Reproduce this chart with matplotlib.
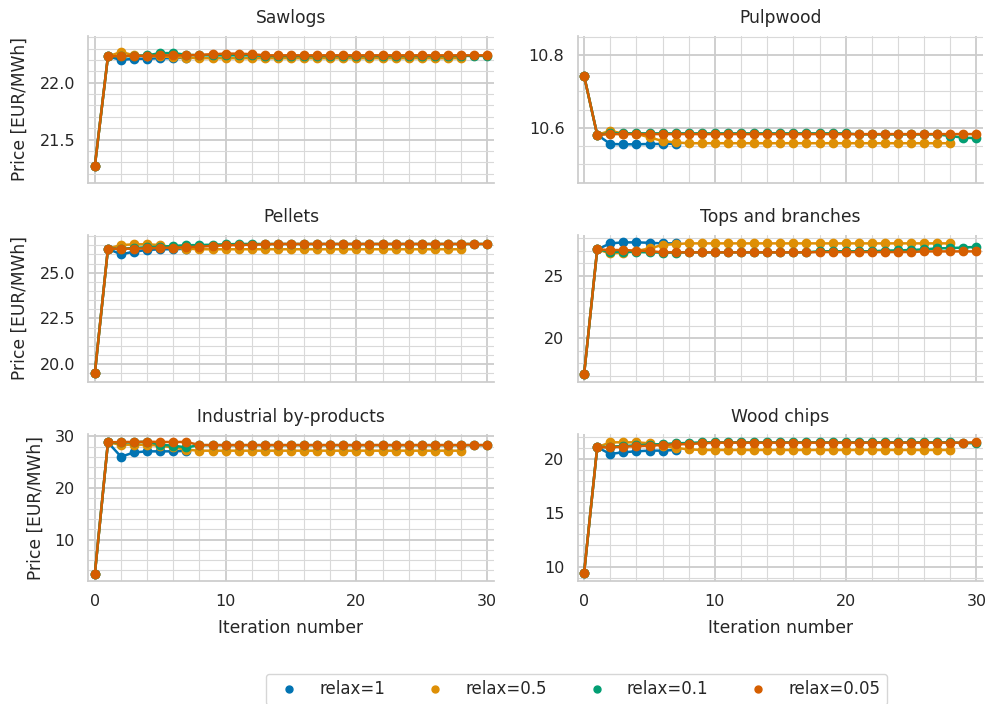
import matplotlib
matplotlib.use("Agg")
import matplotlib.pyplot as plt
import seaborn as sns
from matplotlib.lines import Line2D
from matplotlib.ticker import AutoMinorLocator, MultipleLocator

sns.set_theme(style="whitegrid", palette="colorblind")
plt.rcParams["font.family"] = ["DejaVu Sans"]

# ---- Data (price per iteration, EUR/MWh) ----
RELAX_LABELS = ["relax=1", "relax=0.5", "relax=0.1", "relax=0.05"]
PRODUCTS = ["Sawlogs", "Pulpwood", "Pellets", "Tops and branches",
            "Industrial by-products", "Wood chips"]

sawlogs_r1 = [21.27, 22.23, 22.20, 22.21, 22.21, 22.215, 22.215, 22.22]
sawlogs_r05 = [21.27, 22.23, 22.27, 22.24, 22.235, 22.23, 22.225, 22.22,
               22.215, 22.215, 22.215, 22.215, 22.215, 22.215, 22.215,
               22.215, 22.215, 22.215, 22.215, 22.215, 22.215, 22.215,
               22.215, 22.215, 22.215, 22.215, 22.215, 22.215, 22.215]
sawlogs_r01 = [21.27, 22.23, 22.23, 22.235, 22.24, 22.26, 22.26, 22.245,
               22.24, 22.24, 22.24, 22.24, 22.24, 22.235, 22.235, 22.235,
               22.235, 22.235, 22.235, 22.235, 22.235, 22.235, 22.235,
               22.235, 22.235, 22.235, 22.235, 22.235, 22.235, 22.235, 22.235]
sawlogs_r005 = [21.27, 22.23, 22.235, 22.235, 22.235, 22.24, 22.24, 22.24,
                22.245, 22.25, 22.255, 22.255, 22.25, 22.24, 22.24, 22.24,
                22.24, 22.24, 22.24, 22.24, 22.24, 22.24, 22.24, 22.24,
                22.24, 22.24, 22.24, 22.24, 22.24, 22.24, 22.24]

pulpwood_r1 = [10.742, 10.581, 10.556, 10.555, 10.555, 10.556, 10.556, 10.557]
pulpwood_r05 = [10.742, 10.581, 10.592, 10.584, 10.584, 10.574, 10.564, 10.560,
                10.558, 10.558, 10.558, 10.558, 10.558, 10.558, 10.558,
                10.558, 10.558, 10.558, 10.558, 10.558, 10.558, 10.558,
                10.558, 10.558, 10.558, 10.558, 10.558, 10.558, 10.558]
pulpwood_r01 = [10.742, 10.581, 10.585, 10.585, 10.585, 10.585, 10.585,
                10.585, 10.585, 10.585, 10.585, 10.585, 10.585, 10.585,
                10.585, 10.585, 10.585, 10.585, 10.585, 10.585, 10.585,
                10.582, 10.582, 10.582, 10.582, 10.582, 10.582, 10.582,
                10.578, 10.573, 10.572]
pulpwood_r005 = [10.742, 10.581, 10.583, 10.583, 10.583, 10.583, 10.583,
                 10.583, 10.583, 10.583, 10.583, 10.583, 10.583, 10.583,
                 10.583, 10.583, 10.583, 10.583, 10.583, 10.583, 10.583,
                 10.583, 10.583, 10.583, 10.583, 10.583, 10.583, 10.583,
                 10.583, 10.583, 10.583]

pellets_r1 = [19.49, 26.31, 26.00, 26.15, 26.24, 26.28, 26.28, 26.31]
pellets_r05 = [19.49, 26.31, 26.51, 26.55, 26.55, 26.51, 26.37, 26.31,
               26.28, 26.28, 26.28, 26.28, 26.28, 26.28, 26.28, 26.28,
               26.28, 26.28, 26.28, 26.28, 26.28, 26.28, 26.28, 26.28,
               26.28, 26.28, 26.28, 26.28, 26.28]
pellets_r01 = [19.49, 26.31, 26.31, 26.35, 26.39, 26.42, 26.46, 26.50,
               26.51, 26.53, 26.55, 26.57, 26.57, 26.57, 26.57, 26.57,
               26.57, 26.57, 26.57, 26.57, 26.57, 26.57, 26.57, 26.57,
               26.57, 26.57, 26.57, 26.57, 26.57, 26.57, 26.57]
pellets_r005 = [19.49, 26.31, 26.31, 26.31, 26.33, 26.35, 26.37, 26.39,
                26.42, 26.46, 26.50, 26.51, 26.53, 26.55, 26.57, 26.57,
                26.57, 26.57, 26.57, 26.57, 26.57, 26.57, 26.57, 26.57,
                26.57, 26.57, 26.57, 26.57, 26.57, 26.57, 26.57]

tops_r1 = [17.15, 27.10, 27.58, 27.66, 27.66, 27.63, 27.58, 27.58]
tops_r05 = [17.15, 27.10, 26.78, 26.83, 26.97, 27.18, 27.45, 27.53,
            27.58, 27.58, 27.58, 27.58, 27.58, 27.58, 27.58, 27.58,
            27.58, 27.58, 27.58, 27.58, 27.58, 27.58, 27.58, 27.58,
            27.58, 27.58, 27.58, 27.58, 27.58]
tops_r01 = [17.15, 27.10, 26.91, 26.91, 26.89, 26.86, 26.84, 26.84,
            26.86, 26.86, 26.86, 26.86, 26.86, 26.86, 26.86, 26.86,
            26.86, 26.86, 26.95, 26.95, 26.95, 26.95, 26.95, 27.00,
            27.02, 27.05, 27.10, 27.18, 27.20, 27.25, 27.30]
tops_r005 = [17.15, 27.10, 27.05, 27.05, 27.00, 26.97, 26.86, 26.86,
             26.86, 26.86, 26.86, 26.86, 26.86, 26.86, 26.86, 26.86,
             26.86, 26.86, 26.89, 26.89, 26.89, 26.89, 26.89, 26.89,
             26.89, 26.89, 26.94, 26.94, 26.94, 26.94, 26.94]

byprod_r1 = [3.35, 28.84, 26.06, 26.90, 27.10, 27.10, 27.10, 27.20]
byprod_r05 = [3.35, 28.84, 28.39, 28.39, 28.39, 28.19, 27.87, 27.42,
              27.23, 27.23, 27.23, 27.23, 27.23, 27.23, 27.23, 27.23,
              27.23, 27.23, 27.23, 27.23, 27.23, 27.23, 27.23, 27.23,
              27.23, 27.23, 27.23, 27.23, 27.23]
byprod_r01 = [3.35, 28.84, 28.84, 28.84, 29.00, 28.39, 28.19, 27.87,
              28.30, 28.30, 28.30, 28.30, 28.30, 28.30, 28.30, 28.30,
              28.30, 28.30, 28.30, 28.30, 28.30, 28.30, 28.30, 28.30,
              28.30, 28.30, 28.30, 28.30, 28.30, 28.30, 28.30]
byprod_r005 = [3.35, 28.84, 28.92, 28.92, 28.97, 28.92, 28.92, 28.92,
               28.32, 28.32, 28.32, 28.32, 28.32, 28.32, 28.32, 28.32,
               28.32, 28.32, 28.32, 28.32, 28.32, 28.32, 28.32, 28.32,
               28.32, 28.32, 28.32, 28.32, 28.32, 28.32, 28.32]

chips_r1 = [9.45, 21.08, 20.46, 20.62, 20.71, 20.77, 20.77, 20.83]
chips_r05 = [9.45, 21.08, 21.54, 21.54, 21.54, 21.45, 21.23, 21.02, 20.89,
             20.83, 20.83, 20.83, 20.83, 20.83, 20.83, 20.83, 20.83,
             20.83, 20.83, 20.83, 20.83, 20.83, 20.83, 20.83, 20.83,
             20.83, 20.83, 20.83, 20.83]
chips_r01 = [9.45, 21.08, 21.14, 21.20, 21.26, 21.32, 21.38, 21.45, 21.48,
             21.54, 21.54, 21.54, 21.54, 21.54, 21.54, 21.54, 21.54,
             21.54, 21.54, 21.54, 21.54, 21.54, 21.54, 21.54, 21.54,
             21.54, 21.54, 21.54, 21.54, 21.48, 21.45]
chips_r005 = [9.45, 21.08, 21.08, 21.14, 21.17, 21.23, 21.29, 21.35, 21.38,
              21.45, 21.51, 21.51, 21.51, 21.51, 21.51, 21.51, 21.51,
              21.51, 21.51, 21.51, 21.51, 21.51, 21.51, 21.51, 21.51,
              21.51, 21.51, 21.51, 21.51, 21.51, 21.54]

SERIES = {
    "Sawlogs": [sawlogs_r1, sawlogs_r05, sawlogs_r01, sawlogs_r005],
    "Pulpwood": [pulpwood_r1, pulpwood_r05, pulpwood_r01, pulpwood_r005],
    "Pellets": [pellets_r1, pellets_r05, pellets_r01, pellets_r005],
    "Tops and branches": [tops_r1, tops_r05, tops_r01, tops_r005],
    "Industrial by-products": [byprod_r1, byprod_r05, byprod_r01, byprod_r005],
    "Wood chips": [chips_r1, chips_r05, chips_r01, chips_r005],
}

# ---- Axis settings ----
YLIMS = [(21.12, 22.41), (10.449, 10.852), (19.02, 27.06),
         (16.5, 28.25), (1.95, 30.46), (8.68, 22.31)]
YSTEPS = [0.5, 0.2, 2.5, 5, 10, 5]
COLORS = sns.color_palette("colorblind", 4)

fig, axes = plt.subplots(3, 2, figsize=(9.89, 7.04), dpi=100, sharex=True)
fig.subplots_adjust(left=0.0893, right=0.9939, bottom=0.1747, top=0.9489,
                    wspace=0.207, hspace=0.354)

for i, (ax, name) in enumerate(zip(axes.flat, PRODUCTS)):
    for values, color in zip(SERIES[name], COLORS):
        ax.plot(range(len(values)), values, color=color, marker="o",
                markersize=6, linewidth=1.8)

    ax.set_title(name, fontsize=12.3, pad=9)
    ax.set_xlim(-0.5, 30.5)
    ax.set_ylim(*YLIMS[i])
    ax.xaxis.set_major_locator(MultipleLocator(10))
    ax.xaxis.set_minor_locator(AutoMinorLocator())
    ax.yaxis.set_major_locator(MultipleLocator(YSTEPS[i]))
    ax.yaxis.set_minor_locator(AutoMinorLocator())
    ax.grid(True, which="major", color="#cccccc", linewidth=1.3)
    ax.grid(True, which="minor", color="#d9d9d9", linewidth=0.8)
    ax.tick_params(axis="both", labelsize=11.5)

    if i % 2 == 0:
        ax.set_ylabel("Price [EUR/MWh]", fontsize=12.3, labelpad=7.5)
    if i >= 4:
        ax.set_xlabel("Iteration number", fontsize=12.3, labelpad=7)

sns.despine(fig=fig)

handles = [Line2D([], [], linestyle="", marker="o", markersize=5, color=c)
           for c in COLORS]
fig.legend(handles, RELAX_LABELS, loc="upper center",
           bbox_to_anchor=(0.583, 0.043), ncol=4, fontsize=12,
           borderaxespad=0, frameon=True)

fig.savefig("out.png", dpi=100)
